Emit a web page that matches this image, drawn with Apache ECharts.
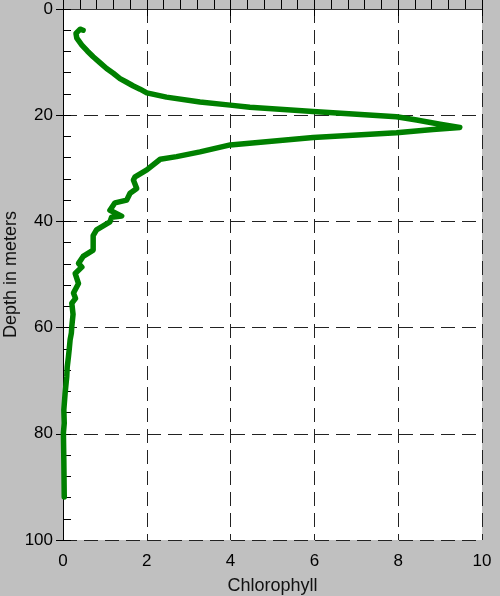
<!DOCTYPE html>
<html><head><meta charset="utf-8">
<script src="https://cdn.jsdelivr.net/npm/echarts@6/dist/echarts.min.js"></script>
<style>html,body{margin:0;padding:0;background:#c0c0c0;}#c{width:500px;height:596px;}</style>
</head><body><div id="c"></div>
<script>
var xTicks = [0, 2, 4, 6, 8, 10];
var yTicks = [0, 20, 40, 60, 80, 100];
var chlorophyll = [0.48,0.41,0.31,0.33,0.45,0.58,0.72,0.88,1.04,1.2,1.36,1.52,1.68,1.84,2.0,2.47,3.27,3.99,4.46,5.97,7.96,8.44,9.0,9.47,8.83,7.96,5.97,3.99,3.27,2.71,2.32,2.0,1.72,1.68,1.76,1.6,1.52,1.24,1.12,1.40,1.16,1.12,0.80,0.72,0.72,0.48,0.37,0.45,0.29,0.37,0.25,0.3,0.21,0.24,0.21,0.2,0.17,0.15,0.13,0.1,0.09,0.05,0.02,0.03,0.01,0.02,0.03];
var depth = [4.0,3.8,4.6,5.5,6.8,7.9,9.0,10.1,11.2,12.1,13.1,13.8,14.5,15.1,15.8,16.6,17.5,18.1,18.5,19.3,20.3,20.9,21.7,22.3,22.7,23.3,24.2,25.6,26.9,27.8,28.3,30.3,31.6,32.2,33.8,34.7,36.0,36.5,37.9,39.0,39.2,40.1,41.6,42.7,45.4,46.6,47.9,48.6,49.8,51.7,53.5,54.5,55.4,57.5,59.8,61.0,62.3,64.0,65.5,67.5,69.2,72.4,75.5,78.0,79.8,85.0,91.9];
var xName = 'Chlorophyll';
var yName = 'Depth in meters';

var pts = chlorophyll.map(function(v, i){ return [v, depth[i]]; });
var chart = echarts.init(document.getElementById('c'));
var ff = 'Liberation Sans, Arial, sans-serif';
var lab = {color:'#000', fontSize:17, fontFamily:ff};
chart.setOption({
  backgroundColor:'#c0c0c0',
  animation:false,
  grid:{left:63, right:18, top:9, bottom:56, show:true, backgroundColor:'#fff', borderWidth:0, containLabel:false, outerBoundsMode:'none'},
  xAxis:[
    {type:'value', min:0, max:10, interval:2, position:'bottom',
     name:xName, nameLocation:'middle', nameGap:37, nameMoveOverlap:false, nameTextStyle:{color:'#111', fontSize:18, fontFamily:ff},
     axisLine:{show:true, lineStyle:{color:'#000', width:1}},
     axisTick:{show:true, inside:false, length:7, lineStyle:{color:'#000'}},
     axisLabel:Object.assign({margin:13, formatter:function(v){return xTicks.indexOf(v)>=0?String(v):'';}}, lab),
     splitLine:{show:true, lineStyle:{color:'#222', type:[14,7], width:1}}},
    {type:'value', min:0, max:10, interval:0.4, position:'bottom',
     axisLine:{show:false}, axisTick:{show:true, inside:true, length:9, lineStyle:{color:'#000'}},
     axisLabel:{show:false}, splitLine:{show:false}},
    {type:'value', min:0, max:10, position:'top',
     axisLine:{show:true, lineStyle:{color:'#333', width:1}}, axisTick:{show:false},
     axisLabel:{show:false}, splitLine:{show:false}}
  ],
  yAxis:[
    {type:'value', min:0, max:100, interval:20, inverse:true, position:'left',
     name:yName, nameLocation:'middle', nameGap:43, nameMoveOverlap:false, nameRotate:90, nameTextStyle:{color:'#111', fontSize:18, fontFamily:ff},
     axisLine:{show:true, lineStyle:{color:'#000', width:1}},
     axisTick:{show:true, inside:false, length:7, lineStyle:{color:'#000'}},
     axisLabel:Object.assign({margin:10, formatter:function(v){return yTicks.indexOf(v)>=0?String(v):'';}}, lab),
     splitLine:{show:true, lineStyle:{color:'#222', type:[14,7], width:1}}},
    {type:'value', min:0, max:100, interval:4, inverse:true, position:'left',
     axisLine:{show:false}, axisTick:{show:true, inside:true, length:8, lineStyle:{color:'#000'}},
     axisLabel:{show:false}, splitLine:{show:false}}
  ],
  series:[{type:'line', data:pts, xAxisIndex:0, yAxisIndex:0, showSymbol:false, symbol:'none',
    lineStyle:{color:'#008000', width:5.5, cap:'round', join:'round'}, z:5}]
});
</script></body></html>
